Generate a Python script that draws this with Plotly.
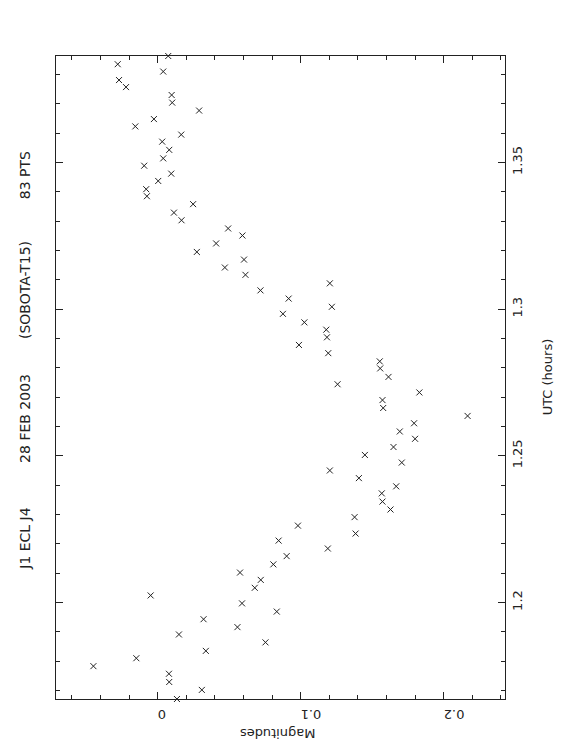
import plotly.graph_objects as go

# UTC (hours) and magnitudes
utc = [1.3863, 1.3835, 1.3810, 1.3781, 1.3757, 1.3730, 1.3704, 1.3677, 1.3648, 1.3623,
       1.3595, 1.3571, 1.3543, 1.3514, 1.3489, 1.3462, 1.3437, 1.3409, 1.3385, 1.3358,
       1.3329, 1.3303, 1.3275, 1.3251, 1.3224, 1.3195, 1.3169, 1.3142, 1.3117, 1.3088,
       1.3064, 1.3036, 1.3008, 1.2984, 1.2955, 1.2930, 1.2904, 1.2878, 1.2850, 1.2822,
       1.2798, 1.2769, 1.2744, 1.2716, 1.2690, 1.2663, 1.2636, 1.2611, 1.2583, 1.2558,
       1.2530, 1.2503, 1.2477, 1.2450, 1.2424, 1.2396, 1.2372, 1.2344, 1.2317, 1.2291,
       1.2262, 1.2235, 1.2211, 1.2184, 1.2158, 1.2130, 1.2102, 1.2077, 1.2050, 1.2024,
       1.1997, 1.1969, 1.1943, 1.1916, 1.1891, 1.1864, 1.1835, 1.1810, 1.1783, 1.1757,
       1.1729, 1.1702, 1.1671]
mag = [0.0074, -0.0279, 0.0039, -0.0270, -0.0221, 0.0098, 0.0102, 0.0290, -0.0026, -0.0156,
       0.0165, 0.0032, 0.0081, 0.0039, -0.0094, 0.0095, 0.0004, -0.0080, -0.0075, 0.0248,
       0.0114, 0.0167, 0.0493, 0.0593, 0.0409, 0.0274, 0.0604, 0.0470, 0.0614, 0.1204,
       0.0719, 0.0916, 0.1218, 0.0876, 0.1026, 0.1179, 0.1184, 0.0988, 0.1193, 0.1553,
       0.1556, 0.1614, 0.1258, 0.1830, 0.1572, 0.1577, 0.2167, 0.1793, 0.1693, 0.1800,
       0.1649, 0.1449, 0.1707, 0.1204, 0.1407, 0.1668, 0.1567, 0.1572, 0.1628, 0.1377,
       0.0981, 0.1384, 0.0846, 0.1190, 0.0902, 0.0809, 0.0576, 0.0721, 0.0679, -0.0049,
       0.0590, 0.0833, 0.0321, 0.0558, 0.0149, 0.0754, 0.0337, -0.0149, -0.0449, 0.0079,
       0.0081, 0.0309, 0.0135]

title_parts = ["J1 ECL J4", "28 FEB 2003", "(SOBOTA-T15)", "83 PTS"]
mag_ticks = [0, 0.1, 0.2]
mag_ticklabels = ["0", "0.1", "0.2"]
utc_ticks = [1.2, 1.25, 1.3, 1.35]
utc_ticklabels = ["1.2", "1.25", "1.3", "1.35"]

FONT = "DejaVu Sans"
INK = "#222222"

pad = 0.1 * (max(mag) - min(mag))
xr = [min(mag) - pad, max(mag) + pad]
yr = [min(utc), max(utc)]

fig = go.Figure()
fig.add_trace(go.Scatter(
    x=mag, y=utc, mode="markers",
    marker=dict(symbol="x-thin-open", size=6, color=INK, line=dict(color=INK, width=1)),
    hoverinfo="skip", showlegend=False, cliponaxis=False,
))

# page body has an 8px margin; size the figure to fit the 562x756 window
OFF = 8
W, H = 562 - 2 * OFF, 756 - 2 * OFF
# plot frame in window pixels
FL, FR, FT, FB = 56, 505.5, 55.7, 699.5
L, T = FL - OFF, FT - OFF
R, B = W - (FR - OFF), H - (FB - OFF)

fig.update_layout(
    width=W, height=H,
    margin=dict(l=L, r=R, t=T, b=B, pad=0),
    paper_bgcolor="white", plot_bgcolor="white",
    font=dict(family=FONT, size=13, color=INK),
    showlegend=False,
    xaxis=dict(
        range=xr, showgrid=False, zeroline=False,
        showline=True, linecolor=INK, linewidth=1, mirror="ticks",
        ticks="inside", ticklen=7, tickwidth=1, tickcolor=INK,
        tickvals=mag_ticks, ticktext=mag_ticklabels, tickangle=180,
        tickfont=dict(family=FONT, size=13, color=INK),
        minor=dict(dtick=0.02, ticks="inside", ticklen=4, tickwidth=1, tickcolor=INK, showgrid=False),
        ticklabelstandoff=7,
    ),
    yaxis=dict(
        range=yr, side="right", showgrid=False, zeroline=False,
        showline=True, linecolor=INK, linewidth=1, mirror="ticks",
        ticks="inside", ticklen=7, tickwidth=1, tickcolor=INK,
        tickvals=utc_ticks, ticktext=utc_ticklabels, tickangle=-90,
        tickfont=dict(family=FONT, size=13, color=INK),
        minor=dict(dtick=0.01, tick0=1.2, ticks="inside", ticklen=4, tickwidth=1, tickcolor=INK, showgrid=False),
        ticklabelstandoff=0,
    ),
)

plot_w = W - L - R
plot_h = H - T - B

def ann(text, wx, wy, angle, size=13):
    # wx, wy: window pixel centre of the text
    fx, fy = wx - OFF, wy - OFF
    return dict(text=text, x=(fx - L) / plot_w, y=1 - (fy - T) / plot_h,
                xref="paper", yref="paper", xanchor="center", yanchor="middle",
                textangle=angle, showarrow=False,
                font=dict(family=FONT, size=size, color=INK))

annotations = [
    ann("Magnitudes", 278, 734, 180),
    ann("UTC (hours)", 548, 377, -90),
]
title_centers = [539, 419, 290, 175]
for txt, yc in zip(title_parts, title_centers):
    annotations.append(ann(txt, 25, yc, -90, size=14))

fig.update_layout(annotations=annotations)
fig.write_html("out.html")
